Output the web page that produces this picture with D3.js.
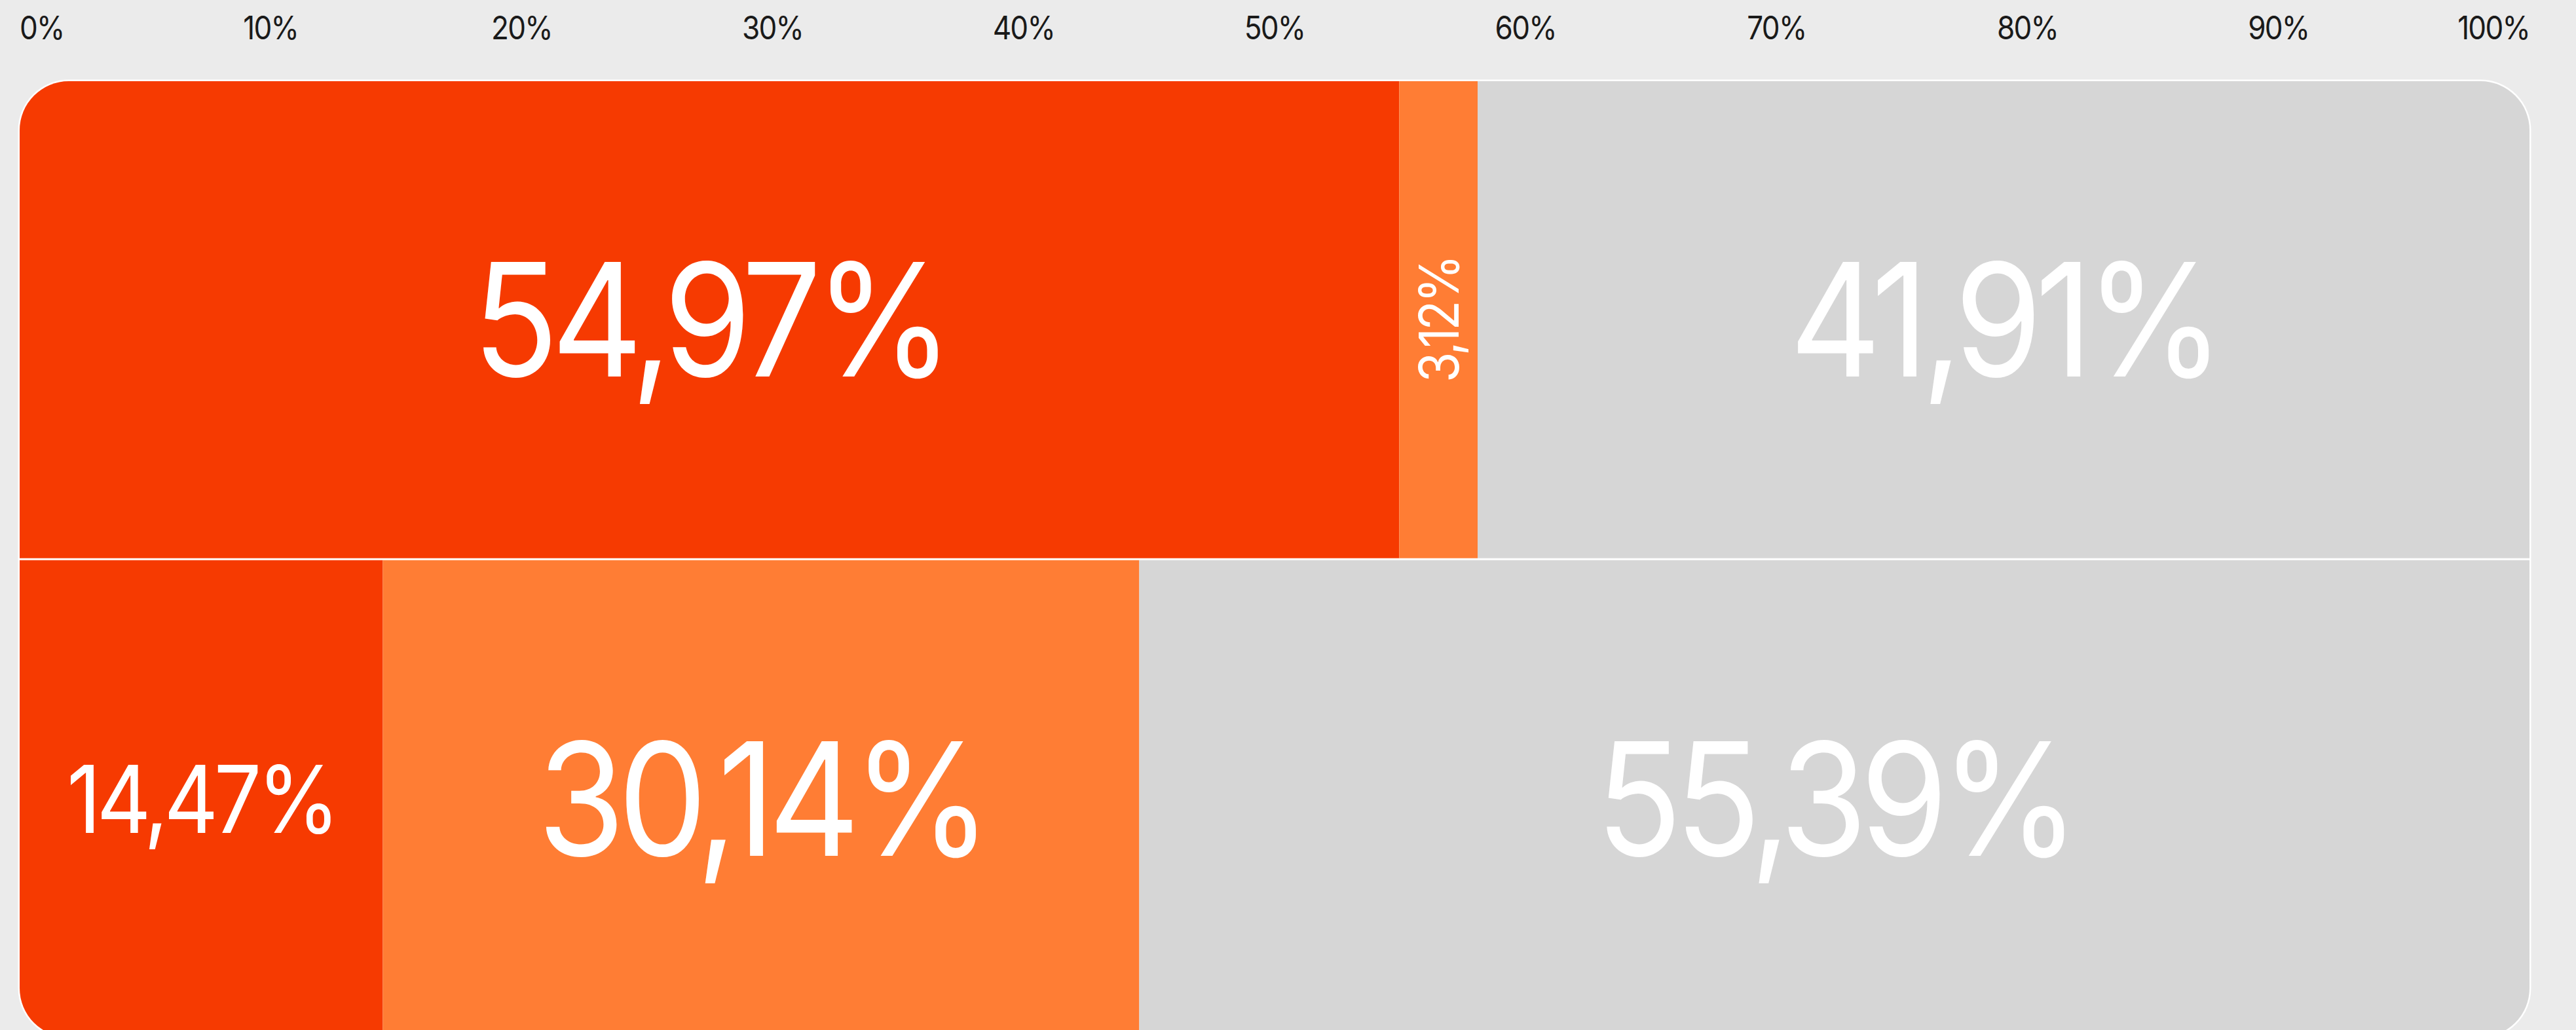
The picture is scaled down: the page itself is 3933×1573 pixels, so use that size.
<!DOCTYPE html>
<html>
<head>
<meta charset="utf-8">
<script src="https://cdn.jsdelivr.net/npm/d3@7"></script>
<style>
  html, body { margin: 0; padding: 0; background: #ebebeb; }
  svg { display: block; }
  .axis text { font-family: Inter, 'Liberation Sans', sans-serif; fill: #1a1a1a; }
  .seg-label { font-family: Inter, 'Liberation Sans', sans-serif; fill: #fff; }
</style>
</head>
<body>
<svg id="chart"></svg>
<script>
// data
var rows = ['row1', 'row2'];
var seriesNames = ['a', 'b', 'c'];
var seriesA = [54.97, 14.47];
var seriesB = [3.12, 30.14];
var seriesC = [41.91, 55.39];
var tickValues = [0, 10, 20, 30, 40, 50, 60, 70, 80, 90, 100];
var colors = ['#f63a01', '#ff7d34', '#d6d6d6'];

var canvasWidth = 3933;
var canvasHeight = 1573;
var margin = { top: 124, left: 30, right: 71 };

var svg = d3.select('#chart')
  .attr('width', canvasWidth)
  .attr('height', canvasHeight);

var xScale = d3.scaleLinear().domain([0, 100]).range([margin.left, canvasWidth - margin.right]);
var yScale = d3.scaleBand().domain(rows).range([margin.top, 1584]).paddingInner(0.0041);
var color = d3.scaleOrdinal().domain(seriesNames).range(colors);

// build stacked table
var table = rows.map(function(r, i) {
  return { row: r, a: seriesA[i], b: seriesB[i], c: seriesC[i] };
});
var stacked = d3.stack().keys(seriesNames)(table);

// narrow the type a bit, the original face is more condensed than Inter
var squeeze = 0.9;

// axis on top
var axis = svg.append('g')
  .attr('class', 'axis')
  .attr('transform', 'translate(0,60)')
  .call(d3.axisTop(xScale)
    .tickValues(tickValues)
    .tickSize(0)
    .tickPadding(0)
    .tickFormat(function(d) { return d + '%'; }));
axis.select('.domain').remove();
axis.selectAll('.tick')
  .attr('transform', function(d) { return 'translate(' + xScale(d) + ',0) scale(' + squeeze + ',1)'; });
axis.selectAll('text')
  .attr('font-size', 49)
  .attr('letter-spacing', '-0.04em')
  .attr('text-anchor', function(d, i) { return i === 0 ? 'start' : (i === tickValues.length - 1 ? 'end' : 'middle'); });

// rounded frame
var x0 = xScale(0), x1 = xScale(100);
var yTop = yScale.range()[0], yBot = yScale.range()[1];
var radius = 75;

svg.append('defs').append('clipPath')
  .attr('id', 'frame')
  .append('rect')
  .attr('x', x0).attr('y', yTop)
  .attr('width', x1 - x0).attr('height', yBot - yTop)
  .attr('rx', radius).attr('ry', radius);

svg.append('rect')
  .attr('x', x0).attr('y', yTop)
  .attr('width', x1 - x0).attr('height', yBot - yTop)
  .attr('rx', radius).attr('ry', radius)
  .attr('fill', '#fff')
  .attr('stroke', '#fff')
  .attr('stroke-width', 5);

var plot = svg.append('g').attr('clip-path', 'url(#frame)');

var layers = plot.selectAll('.layer')
  .data(stacked)
  .enter().append('g')
  .attr('class', 'layer')
  .attr('fill', function(d) { return color(d.key); });

layers.selectAll('rect')
  .data(function(d) { return d; })
  .enter().append('rect')
  .attr('x', function(d) { return xScale(d[0]); })
  .attr('y', function(d) { return yScale(d.data.row); })
  .attr('width', function(d) { return xScale(d[1]) - xScale(d[0]); })
  .attr('height', yScale.bandwidth());

// labels, sized to fit their segment
var fmt = function(v) { return v.toFixed(2).replace('.', ',') + '%'; };
var labelData = [];
stacked.forEach(function(layer) {
  layer.forEach(function(d) {
    labelData.push({ x0: xScale(d[0]), x1: xScale(d[1]), row: d.data.row, value: d[1] - d[0] });
  });
});

var maxFont = 240;
var capRatio = 0.727;
svg.selectAll('.seg-label')
  .data(labelData)
  .enter().append('text')
  .attr('class', 'seg-label')
  .attr('text-anchor', 'middle')
  .attr('letter-spacing', '-0.05em')
  .text(function(d) { return fmt(d.value); })
  .each(function(d) {
    var el = d3.select(this);
    var w = d.x1 - d.x0;
    var cx = (d.x0 + d.x1) / 2;
    var cy = yScale(d.row) + yScale.bandwidth() / 2;
    el.attr('font-size', 100);
    var perEm = this.getComputedTextLength() * squeeze / 100;
    var fs = Math.min(maxFont, (w - 144) / perEm);
    if (fs < 60) {
      // too narrow: rotate
      fs = w * 0.7;
      el.attr('font-size', fs)
        .attr('transform', 'translate(' + (cx + fs * capRatio / 2) + ',' + cy + ') rotate(-90) scale(' + squeeze + ',1)');
    } else {
      el.attr('font-size', fs)
        .attr('transform', 'translate(' + cx + ',' + (cy + fs * capRatio / 2) + ') scale(' + squeeze + ',1)');
    }
  });
</script>
</body>
</html>
